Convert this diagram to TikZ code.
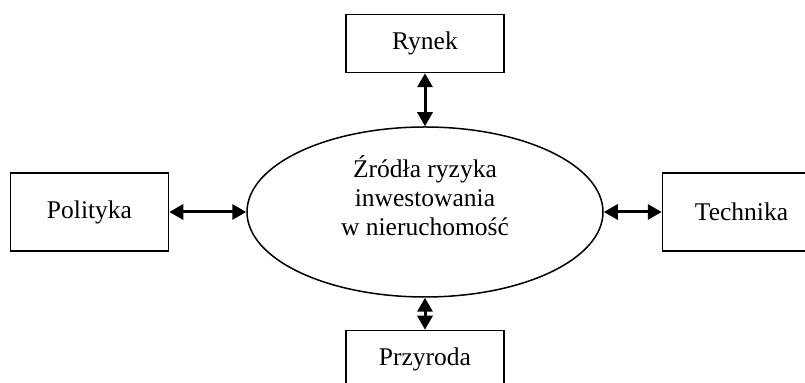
\documentclass[tikz,border=0pt]{standalone}
\usepackage{fontspec}
\setmainfont{Liberation Serif}
\usetikzlibrary{shapes.geometric,arrows.meta,positioning}

\tikzset{
  factor/.style={draw, line width=0.75pt, minimum width=79pt, minimum height=29pt, inner sep=0pt},
  twoway/.style={{Triangle[length=7pt,width=7.5pt]}-{Triangle[length=7pt,width=7.5pt]}, line width=1.5pt}
}

\begin{document}
\begin{tikzpicture}[x=0.5pt, y=-0.5pt, font=\fontsize{12.75}{14.5}\selectfont]
	\useasboundingbox (0,0) rectangle (805,383);
	\node[draw,
	     ellipse,
		 line width=0.75pt,
		 minimum width=178pt,
		 minimum height=85pt,
		 inner sep=0pt,
		 align=center] (src) at (425,212) {\raisebox{6pt}[\height][\depth]{\begin{tabular}{@{}c@{}}Źródła ryzyka\\inwestowania\\w nieruchomość\end{tabular}}}; % central ellipse, text lifted a little
	\node[factor, above=26.5pt of src] (rynek) {Rynek};
	\node[factor, below=16pt of src] (przyroda) {Przyroda};
	\node[factor, minimum height=39pt, left=38.5pt of src] (polityka) {Polityka};
	\node[factor, minimum height=39pt, right=29pt of src] (technika) {Technika};
% two-way arrows between the ellipse and every factor
	\draw[twoway] (rynek) -- (src);
	\draw[twoway] (src) -- (przyroda);
	\draw[twoway] (polityka) -- (src);
	\draw[twoway] (src) -- (technika);

\end{tikzpicture}
\end{document}
